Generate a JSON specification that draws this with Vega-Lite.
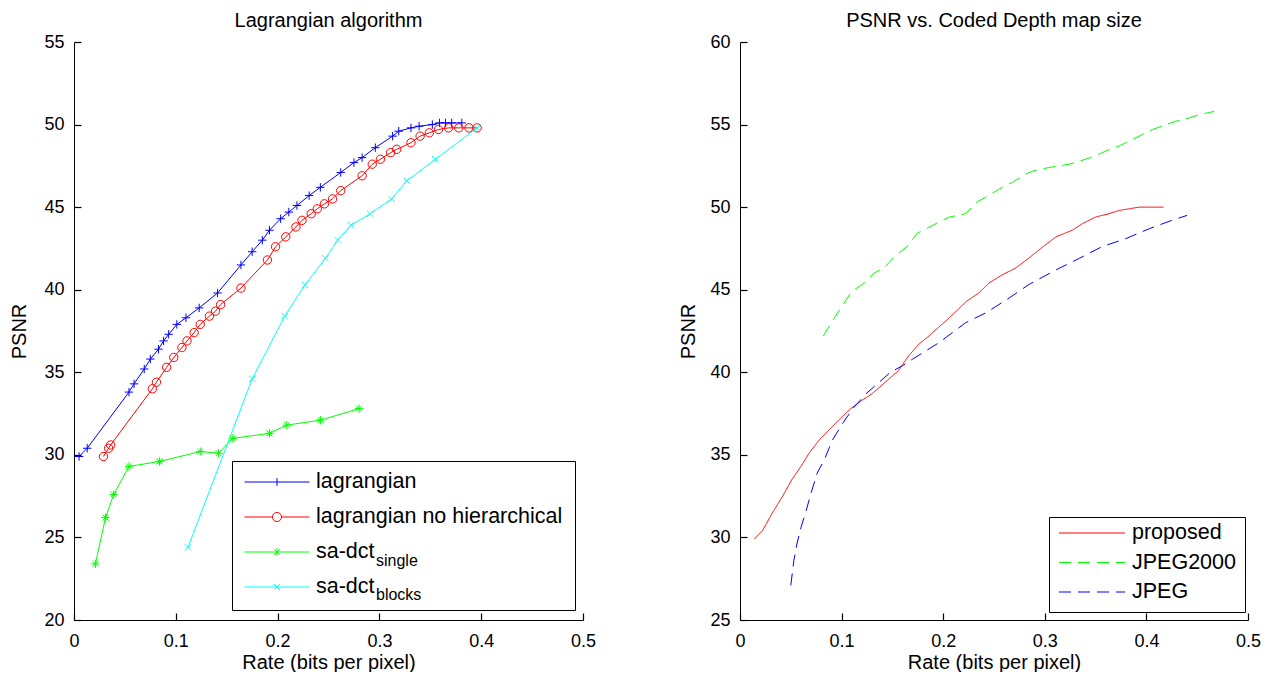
{
  "$schema": "https://vega.github.io/schema/vega-lite/v6.json",
  "padding": {"left": 9, "top": 11, "right": 0, "bottom": 0},
  "config": {
    "font": "Liberation Sans",
    "view": {"stroke": null},
    "axis": {"domainColor": "black", "domainWidth": 1, "ticks": true, "tickColor": "black", "tickSize": -7, "tickWidth": 1.2, "labelFontSize": 18, "labelColor": "black", "titleFontSize": 20, "titleFontWeight": "normal", "titleColor": "black", "grid": false, "labelFlush": false, "labelOverlap": false},
    "axisX": {"labelPadding": 19, "titlePadding": 2},
    "axisY": {"labelPadding": 17, "titlePadding": 14},
    "title": {"fontSize": 20, "fontWeight": "normal", "color": "black", "offset": 2},
    "legend": {"title": null, "orient": "none", "strokeColor": "black", "fillColor": "white", "cornerRadius": 0, "labelFontSize": 21.5, "labelColor": "black", "labelLimit": 400}
  },
  "datasets": {
    "left": [
      {"s": "lagrangian", "x": 0.005, "y": 29.9}, {"s": "lagrangian", "x": 0.013, "y": 30.4}, {"s": "lagrangian", "x": 0.054, "y": 33.8}, {"s": "lagrangian", "x": 0.059, "y": 34.3}, {"s": "lagrangian", "x": 0.069, "y": 35.2}, {"s": "lagrangian", "x": 0.075, "y": 35.8}, {"s": "lagrangian", "x": 0.083, "y": 36.4}, {"s": "lagrangian", "x": 0.088, "y": 36.9}, {"s": "lagrangian", "x": 0.093, "y": 37.3}, {"s": "lagrangian", "x": 0.101, "y": 37.9}, {"s": "lagrangian", "x": 0.110, "y": 38.3}, {"s": "lagrangian", "x": 0.123, "y": 38.9}, {"s": "lagrangian", "x": 0.141, "y": 39.8}, {"s": "lagrangian", "x": 0.164, "y": 41.5}, {"s": "lagrangian", "x": 0.175, "y": 42.3}, {"s": "lagrangian", "x": 0.185, "y": 43.0}, {"s": "lagrangian", "x": 0.192, "y": 43.6}, {"s": "lagrangian", "x": 0.203, "y": 44.3}, {"s": "lagrangian", "x": 0.211, "y": 44.7}, {"s": "lagrangian", "x": 0.219, "y": 45.1}, {"s": "lagrangian", "x": 0.231, "y": 45.7}, {"s": "lagrangian", "x": 0.242, "y": 46.2}, {"s": "lagrangian", "x": 0.262, "y": 47.1}, {"s": "lagrangian", "x": 0.275, "y": 47.7}, {"s": "lagrangian", "x": 0.283, "y": 48.0}, {"s": "lagrangian", "x": 0.296, "y": 48.6}, {"s": "lagrangian", "x": 0.313, "y": 49.3}, {"s": "lagrangian", "x": 0.319, "y": 49.6}, {"s": "lagrangian", "x": 0.331, "y": 49.8}, {"s": "lagrangian", "x": 0.339, "y": 49.9}, {"s": "lagrangian", "x": 0.352, "y": 50.0}, {"s": "lagrangian", "x": 0.359, "y": 50.1}, {"s": "lagrangian", "x": 0.365, "y": 50.1}, {"s": "lagrangian", "x": 0.371, "y": 50.1}, {"s": "lagrangian", "x": 0.381, "y": 50.1},
      {"s": "lagrangian no hierarchical", "x": 0.029, "y": 29.9}, {"s": "lagrangian no hierarchical", "x": 0.034, "y": 30.4}, {"s": "lagrangian no hierarchical", "x": 0.036, "y": 30.6}, {"s": "lagrangian no hierarchical", "x": 0.077, "y": 34.0}, {"s": "lagrangian no hierarchical", "x": 0.081, "y": 34.4}, {"s": "lagrangian no hierarchical", "x": 0.091, "y": 35.3}, {"s": "lagrangian no hierarchical", "x": 0.098, "y": 35.9}, {"s": "lagrangian no hierarchical", "x": 0.106, "y": 36.5}, {"s": "lagrangian no hierarchical", "x": 0.111, "y": 36.9}, {"s": "lagrangian no hierarchical", "x": 0.118, "y": 37.4}, {"s": "lagrangian no hierarchical", "x": 0.124, "y": 37.9}, {"s": "lagrangian no hierarchical", "x": 0.133, "y": 38.4}, {"s": "lagrangian no hierarchical", "x": 0.139, "y": 38.7}, {"s": "lagrangian no hierarchical", "x": 0.144, "y": 39.1}, {"s": "lagrangian no hierarchical", "x": 0.164, "y": 40.1}, {"s": "lagrangian no hierarchical", "x": 0.190, "y": 41.8}, {"s": "lagrangian no hierarchical", "x": 0.198, "y": 42.6}, {"s": "lagrangian no hierarchical", "x": 0.208, "y": 43.2}, {"s": "lagrangian no hierarchical", "x": 0.218, "y": 43.8}, {"s": "lagrangian no hierarchical", "x": 0.224, "y": 44.2}, {"s": "lagrangian no hierarchical", "x": 0.233, "y": 44.6}, {"s": "lagrangian no hierarchical", "x": 0.239, "y": 44.9}, {"s": "lagrangian no hierarchical", "x": 0.246, "y": 45.2}, {"s": "lagrangian no hierarchical", "x": 0.254, "y": 45.5}, {"s": "lagrangian no hierarchical", "x": 0.262, "y": 46.0}, {"s": "lagrangian no hierarchical", "x": 0.283, "y": 46.9}, {"s": "lagrangian no hierarchical", "x": 0.293, "y": 47.6}, {"s": "lagrangian no hierarchical", "x": 0.301, "y": 47.9}, {"s": "lagrangian no hierarchical", "x": 0.311, "y": 48.3}, {"s": "lagrangian no hierarchical", "x": 0.317, "y": 48.5}, {"s": "lagrangian no hierarchical", "x": 0.331, "y": 48.9}, {"s": "lagrangian no hierarchical", "x": 0.340, "y": 49.3}, {"s": "lagrangian no hierarchical", "x": 0.349, "y": 49.5}, {"s": "lagrangian no hierarchical", "x": 0.358, "y": 49.7}, {"s": "lagrangian no hierarchical", "x": 0.368, "y": 49.8}, {"s": "lagrangian no hierarchical", "x": 0.378, "y": 49.8}, {"s": "lagrangian no hierarchical", "x": 0.388, "y": 49.8}, {"s": "lagrangian no hierarchical", "x": 0.396, "y": 49.8},
      {"s": "sa-dct single", "x": 0.021, "y": 23.4}, {"s": "sa-dct single", "x": 0.031, "y": 26.2}, {"s": "sa-dct single", "x": 0.039, "y": 27.6}, {"s": "sa-dct single", "x": 0.054, "y": 29.3}, {"s": "sa-dct single", "x": 0.084, "y": 29.6}, {"s": "sa-dct single", "x": 0.124, "y": 30.2}, {"s": "sa-dct single", "x": 0.142, "y": 30.1}, {"s": "sa-dct single", "x": 0.156, "y": 31.0}, {"s": "sa-dct single", "x": 0.192, "y": 31.3}, {"s": "sa-dct single", "x": 0.209, "y": 31.8}, {"s": "sa-dct single", "x": 0.242, "y": 32.1}, {"s": "sa-dct single", "x": 0.280, "y": 32.8},
      {"s": "sa-dct blocks", "x": 0.112, "y": 24.4}, {"s": "sa-dct blocks", "x": 0.175, "y": 34.6}, {"s": "sa-dct blocks", "x": 0.207, "y": 38.4}, {"s": "sa-dct blocks", "x": 0.227, "y": 40.3}, {"s": "sa-dct blocks", "x": 0.247, "y": 41.9}, {"s": "sa-dct blocks", "x": 0.259, "y": 43.0}, {"s": "sa-dct blocks", "x": 0.272, "y": 43.9}, {"s": "sa-dct blocks", "x": 0.291, "y": 44.6}, {"s": "sa-dct blocks", "x": 0.312, "y": 45.5}, {"s": "sa-dct blocks", "x": 0.327, "y": 46.6}, {"s": "sa-dct blocks", "x": 0.355, "y": 47.9}, {"s": "sa-dct blocks", "x": 0.396, "y": 49.8}
    ],
    "right": [
      {"s": "proposed", "x": 0.014, "y": 29.9}, {"s": "proposed", "x": 0.022, "y": 30.4}, {"s": "proposed", "x": 0.032, "y": 31.5}, {"s": "proposed", "x": 0.042, "y": 32.5}, {"s": "proposed", "x": 0.051, "y": 33.5}, {"s": "proposed", "x": 0.060, "y": 34.3}, {"s": "proposed", "x": 0.068, "y": 35.1}, {"s": "proposed", "x": 0.078, "y": 35.9}, {"s": "proposed", "x": 0.089, "y": 36.6}, {"s": "proposed", "x": 0.097, "y": 37.1}, {"s": "proposed", "x": 0.109, "y": 37.8}, {"s": "proposed", "x": 0.120, "y": 38.3}, {"s": "proposed", "x": 0.130, "y": 38.7}, {"s": "proposed", "x": 0.143, "y": 39.4}, {"s": "proposed", "x": 0.156, "y": 40.1}, {"s": "proposed", "x": 0.166, "y": 41.0}, {"s": "proposed", "x": 0.176, "y": 41.7}, {"s": "proposed", "x": 0.186, "y": 42.2}, {"s": "proposed", "x": 0.206, "y": 43.3}, {"s": "proposed", "x": 0.223, "y": 44.3}, {"s": "proposed", "x": 0.235, "y": 44.8}, {"s": "proposed", "x": 0.245, "y": 45.4}, {"s": "proposed", "x": 0.258, "y": 45.9}, {"s": "proposed", "x": 0.271, "y": 46.3}, {"s": "proposed", "x": 0.284, "y": 46.9}, {"s": "proposed", "x": 0.296, "y": 47.5}, {"s": "proposed", "x": 0.311, "y": 48.2}, {"s": "proposed", "x": 0.327, "y": 48.6}, {"s": "proposed", "x": 0.337, "y": 49.0}, {"s": "proposed", "x": 0.350, "y": 49.4}, {"s": "proposed", "x": 0.363, "y": 49.6}, {"s": "proposed", "x": 0.373, "y": 49.8}, {"s": "proposed", "x": 0.393, "y": 50.0}, {"s": "proposed", "x": 0.417, "y": 50.0},
      {"s": "JPEG2000", "x": 0.082, "y": 42.2}, {"s": "JPEG2000", "x": 0.094, "y": 43.4}, {"s": "JPEG2000", "x": 0.110, "y": 44.9}, {"s": "JPEG2000", "x": 0.120, "y": 45.3}, {"s": "JPEG2000", "x": 0.132, "y": 46.0}, {"s": "JPEG2000", "x": 0.143, "y": 46.4}, {"s": "JPEG2000", "x": 0.152, "y": 47.0}, {"s": "JPEG2000", "x": 0.166, "y": 47.7}, {"s": "JPEG2000", "x": 0.174, "y": 48.4}, {"s": "JPEG2000", "x": 0.196, "y": 49.1}, {"s": "JPEG2000", "x": 0.206, "y": 49.4}, {"s": "JPEG2000", "x": 0.222, "y": 49.6}, {"s": "JPEG2000", "x": 0.233, "y": 50.3}, {"s": "JPEG2000", "x": 0.242, "y": 50.6}, {"s": "JPEG2000", "x": 0.258, "y": 51.2}, {"s": "JPEG2000", "x": 0.268, "y": 51.5}, {"s": "JPEG2000", "x": 0.281, "y": 52.0}, {"s": "JPEG2000", "x": 0.289, "y": 52.2}, {"s": "JPEG2000", "x": 0.304, "y": 52.4}, {"s": "JPEG2000", "x": 0.324, "y": 52.6}, {"s": "JPEG2000", "x": 0.335, "y": 52.8}, {"s": "JPEG2000", "x": 0.350, "y": 53.1}, {"s": "JPEG2000", "x": 0.360, "y": 53.4}, {"s": "JPEG2000", "x": 0.373, "y": 53.7}, {"s": "JPEG2000", "x": 0.383, "y": 54.0}, {"s": "JPEG2000", "x": 0.396, "y": 54.4}, {"s": "JPEG2000", "x": 0.406, "y": 54.7}, {"s": "JPEG2000", "x": 0.415, "y": 54.9}, {"s": "JPEG2000", "x": 0.429, "y": 55.2}, {"s": "JPEG2000", "x": 0.442, "y": 55.4}, {"s": "JPEG2000", "x": 0.452, "y": 55.6}, {"s": "JPEG2000", "x": 0.467, "y": 55.8},
      {"s": "JPEG", "x": 0.050, "y": 27.1}, {"s": "JPEG", "x": 0.053, "y": 28.6}, {"s": "JPEG", "x": 0.056, "y": 29.6}, {"s": "JPEG", "x": 0.060, "y": 30.6}, {"s": "JPEG", "x": 0.065, "y": 31.6}, {"s": "JPEG", "x": 0.070, "y": 32.7}, {"s": "JPEG", "x": 0.076, "y": 33.9}, {"s": "JPEG", "x": 0.083, "y": 34.7}, {"s": "JPEG", "x": 0.091, "y": 35.9}, {"s": "JPEG", "x": 0.101, "y": 36.9}, {"s": "JPEG", "x": 0.111, "y": 37.8}, {"s": "JPEG", "x": 0.124, "y": 38.7}, {"s": "JPEG", "x": 0.137, "y": 39.4}, {"s": "JPEG", "x": 0.148, "y": 40.0}, {"s": "JPEG", "x": 0.160, "y": 40.4}, {"s": "JPEG", "x": 0.170, "y": 40.8}, {"s": "JPEG", "x": 0.183, "y": 41.3}, {"s": "JPEG", "x": 0.196, "y": 41.8}, {"s": "JPEG", "x": 0.209, "y": 42.4}, {"s": "JPEG", "x": 0.222, "y": 43.0}, {"s": "JPEG", "x": 0.242, "y": 43.6}, {"s": "JPEG", "x": 0.265, "y": 44.5}, {"s": "JPEG", "x": 0.284, "y": 45.3}, {"s": "JPEG", "x": 0.311, "y": 46.2}, {"s": "JPEG", "x": 0.334, "y": 46.9}, {"s": "JPEG", "x": 0.356, "y": 47.6}, {"s": "JPEG", "x": 0.380, "y": 48.1}, {"s": "JPEG", "x": 0.403, "y": 48.7}, {"s": "JPEG", "x": 0.425, "y": 49.2}, {"s": "JPEG", "x": 0.440, "y": 49.5}
    ]
  },
  "spacing": 82,
  "resolve": {
    "scale": {"color": "independent", "shape": "independent", "strokeDash": "independent", "fill": "independent"},
    "legend": {"color": "independent", "shape": "independent", "strokeDash": "independent", "fill": "independent"}
  },
  "hconcat": [
    {
      "width": 509, "height": 578,
      "title": "Lagrangian algorithm",
      "data": {"name": "left"},
      "encoding": {
        "x": {"field": "x", "type": "quantitative", "scale": {"domain": [0, 0.5], "nice": false, "zero": false}, "axis": {"values": [0, 0.1, 0.2, 0.3, 0.4, 0.5], "format": "~g", "title": "Rate (bits per pixel)"}},
        "y": {"field": "y", "type": "quantitative", "scale": {"domain": [20, 55], "nice": false, "zero": false}, "axis": {"values": [20, 25, 30, 35, 40, 45, 50, 55], "title": "PSNR"}}
      },
      "resolve": {"scale": {"shape": "independent", "fill": "independent"}, "legend": {"shape": "independent", "fill": "independent"}},
      "layer": [
        {
          "mark": {"type": "line", "strokeWidth": 1},
          "encoding": {
            "color": {
              "field": "s", "type": "nominal",
              "scale": {"domain": ["lagrangian", "lagrangian no hierarchical", "sa-dct single", "sa-dct blocks"], "range": ["#0000ff", "#ff0000", "#00ff00", "#00ffff"]},
              "legend": {
                "legendX": 158, "legendY": 419, "padding": 12, "rowPadding": 13, "clipHeight": 18,
                "symbolSize": 4225, "symbolStrokeWidth": 1, "labelOffset": 6,
                "labelExpr": "datum.value === 'sa-dct single' || datum.value === 'sa-dct blocks' ? 'sa-dct' : datum.label",
                "encode": {
                  "symbols": {"update": {
                    "fill": {"value": "transparent"},
                    "shape": {"signal": "datum.value === 'lagrangian' ? 'M-1,0H1M0,-0.12V0.12' : datum.value === 'lagrangian no hierarchical' ? 'M-1,0H-0.14M0.14,0H1M-0.14,0A0.14,0.14,0,1,1,0.14,0A0.14,0.14,0,1,1,-0.14,0' : datum.value === 'sa-dct single' ? 'M-1,0H1M0,-0.12V0.12M-0.085,-0.085L0.085,0.085M-0.085,0.085L0.085,-0.085' : 'M-1,0H1M-0.09,-0.09L0.09,0.09M-0.09,0.09L0.09,-0.09'"}
                  }}
                }
              }
            }
          }
        },
        {
          "mark": {"type": "point", "filled": false, "strokeWidth": 1, "size": 70, "opacity": 1},
          "encoding": {
            "color": {"field": "s", "type": "nominal", "legend": null},
            "shape": {
              "field": "s", "type": "nominal", "legend": null,
              "scale": {"domain": ["lagrangian", "lagrangian no hierarchical", "sa-dct single", "sa-dct blocks"], "range": ["M-1,0H1M0,-1V1", "circle", "M-1,0H1M0,-1V1M-0.7,-0.7L0.7,0.7M-0.7,0.7L0.7,-0.7", "M-0.75,-0.75L0.75,0.75M-0.75,0.75L0.75,-0.75"]}
            }
          }
        },
        {
          "transform": [{"filter": {"field": "s", "oneOf": ["sa-dct single", "sa-dct blocks"]}}],
          "mark": {"type": "point", "opacity": 0, "filled": true},
          "encoding": {
            "fill": {
              "field": "s", "type": "nominal",
              "scale": {"domain": ["sa-dct single", "sa-dct blocks"], "range": ["white", "white"]},
              "legend": {
                "legendX": 286, "legendY": 510, "padding": 0, "rowPadding": 16, "clipHeight": 18,
                "strokeColor": "transparent", "fillColor": "transparent",
                "symbolSize": 0, "symbolOpacity": 0, "symbolStrokeWidth": 0, "labelOffset": 0, "labelFontSize": 16,
                "labelExpr": "datum.value === 'sa-dct single' ? 'single' : 'blocks'"
              }
            }
          }
        }
      ]
    },
    {
      "width": 508, "height": 578,
      "title": "PSNR vs. Coded Depth map size",
      "data": {"name": "right"},
      "mark": {"type": "line", "strokeWidth": 1},
      "encoding": {
        "x": {"field": "x", "type": "quantitative", "scale": {"domain": [0, 0.5], "nice": false, "zero": false}, "axis": {"values": [0, 0.1, 0.2, 0.3, 0.4, 0.5], "format": "~g", "title": "Rate (bits per pixel)"}},
        "y": {"field": "y", "type": "quantitative", "scale": {"domain": [25, 60], "nice": false, "zero": false}, "axis": {"values": [25, 30, 35, 40, 45, 50, 55, 60], "title": "PSNR", "titlePadding": 11}},
        "color": {
          "field": "s", "type": "nominal",
          "scale": {"domain": ["proposed", "JPEG2000", "JPEG"], "range": ["#ff0000", "#00ff00", "#0000ff"]},
          "legend": {"legendX": 309, "legendY": 475, "padding": 9, "rowPadding": 7.5, "clipHeight": 14, "symbolSize": 4356, "symbolStrokeWidth": 1.1, "labelOffset": 6, "symbolType": "stroke"}
        },
        "strokeDash": {
          "field": "s", "type": "nominal",
          "scale": {"domain": ["proposed", "JPEG2000", "JPEG"], "range": [[1, 0], [12, 7], [12, 7]]},
          "legend": {"legendX": 309, "legendY": 475, "padding": 9, "rowPadding": 7.5, "clipHeight": 14, "symbolSize": 4356, "symbolStrokeWidth": 1.1, "labelOffset": 6, "symbolType": "stroke"}
        }
      }
    }
  ]
}
